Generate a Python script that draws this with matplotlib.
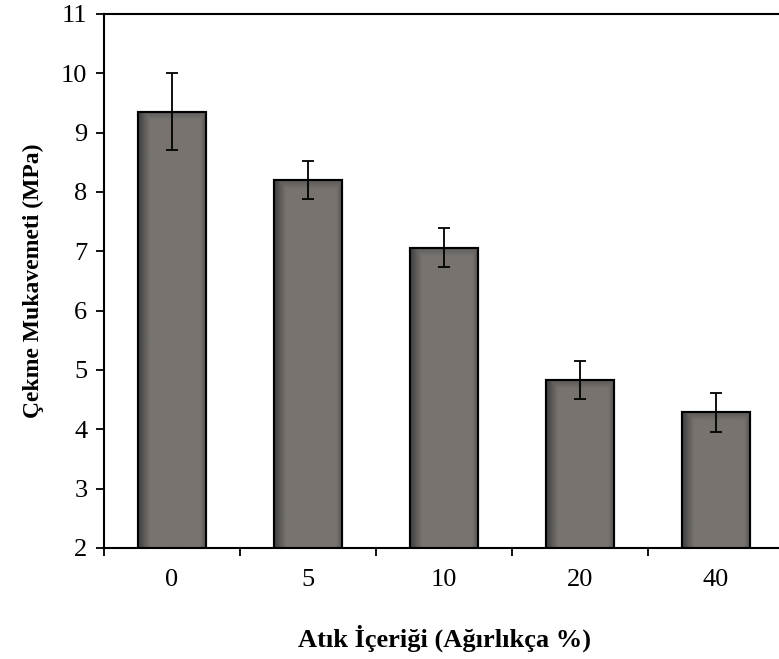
import numpy as np
import matplotlib
matplotlib.use("Agg")
import matplotlib.pyplot as plt

categories = ["0", "5", "10", "20", "40"]
values = [9.35, 8.20, 7.06, 4.83, 4.29]
errors = [0.65, 0.32, 0.33, 0.32, 0.33]
yticks = [2, 3, 4, 5, 6, 7, 8, 9, 10, 11]

plt.rcParams['font.family'] = ['Liberation Serif', 'DejaVu Serif']

fig = plt.figure(figsize=(7.79, 6.59), dpi=100)
ax = fig.add_axes([104/779, 1-548/659, (784-104)/779, (548-14)/659])

x = np.arange(len(categories))
bars = ax.bar(x, [v - 2 for v in values], bottom=2, width=0.5,
              color="#78736f", edgecolor="black", linewidth=1.5, zorder=2)

ax.set_xlim(-0.5, len(categories) - 0.5)
ax.set_ylim(2, 11)

# gradient shading inside each bar
base = np.array([0x78, 0x73, 0x6f]) / 255.0
dark = np.array([0x3a, 0x3a, 0x3a]) / 255.0
for b in bars:
    x0, y0 = b.get_x(), b.get_y()
    w, h = b.get_width(), b.get_height()
    W, H = 70, max(int(h * 59.3), 2)
    fx = np.linspace(0, 1, W)[None, :]
    dy = np.linspace(0, h, H)[:, None]  # distance from top in data units
    left = np.clip(fx / 0.18, 0, 1)
    right = np.clip((1 - fx) / 0.08, 0, 1)
    top = np.clip(dy / 0.14, 0, 1)
    t = np.minimum(np.minimum(left, right * 0.6 + 0.4), top * 0.55 + 0.45)
    t = t ** 0.8
    img = dark[None, None, :] * (1 - t[..., None]) + base[None, None, :] * t[..., None]
    im = ax.imshow(img, extent=[x0, x0 + w, y0, y0 + h], origin="upper",
                   aspect="auto", zorder=2.5, interpolation="bilinear")
    im.set_clip_path(b)
    rect = plt.Rectangle((x0, y0), w, h, fill=False, edgecolor="black",
                         linewidth=1.5, zorder=3)
    ax.add_patch(rect)

ax.errorbar(x, values, yerr=errors, fmt="none", ecolor="black",
            elinewidth=1.3, capsize=4.2, capthick=1.3, zorder=4)

ax.set_aspect("auto")
ax.set_xlim(-0.5, len(categories) - 0.5)
ax.set_ylim(2, 11)

ax.set_yticks(yticks)
ax.set_yticklabels([str(t) for t in yticks])
ax.set_xticks(np.arange(len(categories) + 1) - 0.5, minor=False)
ax.set_xticklabels([])
ax.set_xticks(x, minor=True)
ax.set_xticklabels(categories, minor=True)
ax.tick_params(axis="x", which="major", direction="out", length=6, width=1.3)
ax.tick_params(axis="x", which="minor", length=0, pad=15, labelsize=19)
ax.tick_params(axis="y", direction="out", length=6, width=1.3, labelsize=19, pad=6)

for s in ax.spines.values():
    s.set_linewidth(1.5)
ax.spines["right"].set_visible(False)

ax.set_ylabel("Çekme Mukavemeti (MPa)", fontsize=17, fontweight="bold", labelpad=12)
ax.set_xlabel("Atık İçeriği (Ağırlıkça %)", fontsize=19, fontweight="bold", labelpad=24)

fig.savefig("out.png", dpi=100)
